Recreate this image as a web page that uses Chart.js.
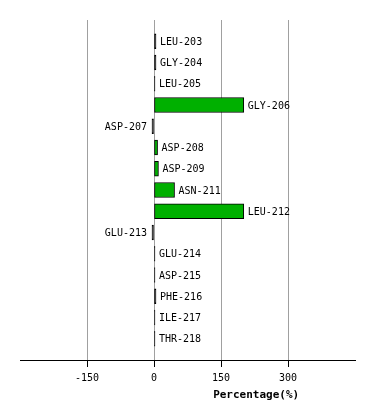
<!DOCTYPE html>
<html>
<head>
<meta charset="utf-8">
<script src="https://cdn.jsdelivr.net/npm/chart.js@4/dist/chart.umd.min.js"></script>
<style>
  html, body { margin: 0; padding: 0; background: #fff; }
  #wrap { width: 374px; height: 420px; }
</style>
</head>
<body>
<div id="wrap"><canvas id="chart" width="374" height="420"></canvas></div>
<script>
// residues and their percentage values
const residues = ['LEU-203', 'GLY-204', 'LEU-205', 'GLY-206', 'ASP-207', 'ASP-208', 'ASP-209',
  'ASN-211', 'LEU-212', 'GLU-213', 'GLU-214', 'ASP-215', 'PHE-216', 'ILE-217', 'THR-218'];
const percentages = [4.5, 4.5, 2.2, 201, -4.5, 8, 10, 46, 201, -4.5, 2.2, 2.2, 4.5, 2.2, 2.2];
const xTicks = [-150, 0, 150, 300];
const xMin = -300;
const xMax = 450;

const mono = '"DejaVu Sans Mono", "Liberation Mono", monospace';

// empty slot before and after so the rows sit one step in from the edges
const labels = [''].concat(residues, ['']);
const values = [null].concat(percentages, [null]);

const barLabels = {
  id: 'barLabels',
  afterDatasetsDraw(chart) {
    const ctx = chart.ctx;
    const x = chart.scales.x;
    const y = chart.scales.y;
    ctx.save();
    ctx.font = '10px ' + mono;
    ctx.fillStyle = '#000';
    ctx.textBaseline = 'middle';
    values.forEach((v, i) => {
      if (v === null) return;
      const py = y.getPixelForValue(i);
      const px = x.getPixelForValue(v);
      if (v < 0) {
        ctx.textAlign = 'right';
        ctx.fillText(labels[i], px - 5, py + 1);
      } else {
        ctx.textAlign = 'left';
        ctx.fillText(labels[i], px + 4, py + 1);
      }
    });
    // axis title
    const a = chart.chartArea;
    ctx.font = 'bold 11px ' + mono;
    ctx.textAlign = 'center';
    ctx.fillText('Percentage(%)', a.left + (a.right - a.left) * 0.705, 395);
    ctx.restore();
  }
};

// very short bars are all outline, so paint them black
function barColor(c) {
  const v = c.raw;
  const x = c.chart.scales.x;
  if (v === null || !x) return '#00b000';
  const w = Math.abs(x.getPixelForValue(v) - x.getPixelForValue(0));
  return w < 3 ? '#000' : '#00b000';
}

new Chart(document.getElementById('chart'), {
  type: 'bar',
  data: {
    labels: labels,
    datasets: [{
      data: values,
      backgroundColor: barColor,
      borderColor: '#000',
      borderWidth: 1,
      borderSkipped: false,
      barThickness: 15
    }]
  },
  plugins: [barLabels],
  options: {
    indexAxis: 'y',
    responsive: false,
    animation: false,
    layout: { padding: { left: 20, right: 19, top: 20, bottom: 0 } },
    plugins: { legend: { display: false }, tooltip: { enabled: false } },
    scales: {
      y: {
        display: false,
        offset: false,
        grid: { display: false }
      },
      x: {
        min: xMin,
        max: xMax,
        afterBuildTicks(scale) {
          scale.ticks = xTicks.map(v => ({ value: v }));
        },
        afterFit(scale) { scale.height = 60; },
        grid: {
          color: '#a0a0a0',
          lineWidth: 1,
          tickColor: '#000',
          tickLength: 7
        },
        border: { color: '#000', width: 1 },
        ticks: {
          color: '#000',
          padding: 5,
          maxRotation: 0,
          font: { family: mono, size: 10 }
        }
      }
    }
  }
});
</script>
</body>
</html>
